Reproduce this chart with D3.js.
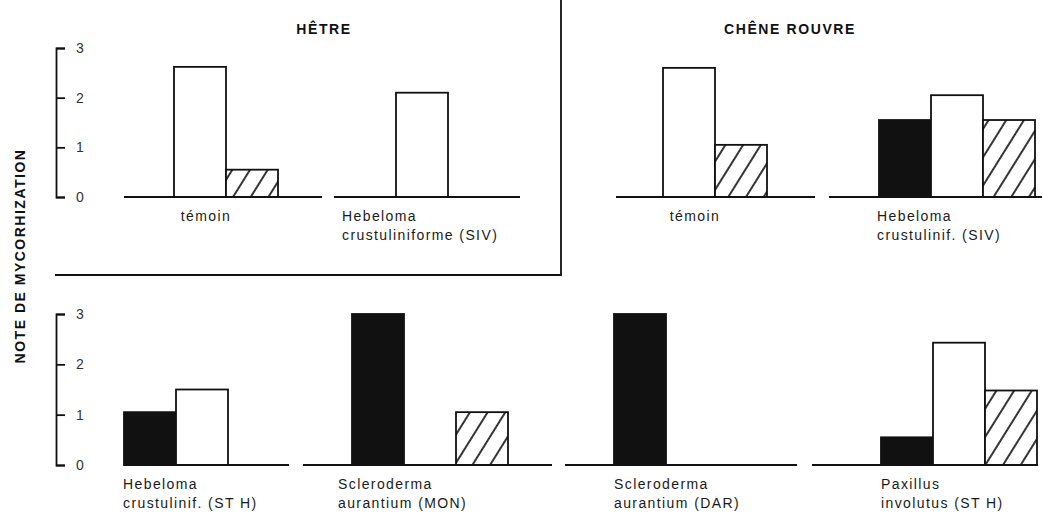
<!DOCTYPE html>
<html lang="fr">
<head>
<meta charset="UTF-8">
<title>Note de mycorhization</title>
<style>
  body { margin: 0; background: #fff; }
  svg { display: block; }
  text { font-family: "Liberation Sans", Arial, sans-serif; fill: #111; }
  .title { font-weight: bold; font-size: 14px; letter-spacing: 1.6px; }
  .ylabel { font-weight: bold; font-size: 14px; letter-spacing: 1.5px; }
  .cat { font-size: 14px; letter-spacing: 1.4px; fill: #1a1a1a; }
  .axis text { font-size: 14px; fill: #333; }
  .axis path, .axis line { stroke: #111; stroke-width: 1.8px; }
  .bar { stroke: #111; stroke-width: 1.8px; }
  .base { stroke: #111; stroke-width: 2px; }
</style>
</head>
<body>
<svg width="1042" height="516"></svg>
<script src="https://cdnjs.cloudflare.com/ajax/libs/d3/7.8.5/d3.min.js"></script>
<script>
// data
const series = ["noir", "blanc", "hachure"];
const panelTitles = ["HÊTRE", "CHÊNE ROUVRE"];
const categories = [
  ["témoin"],
  ["Hebeloma", "crustuliniforme (SIV)"],
  ["témoin"],
  ["Hebeloma", "crustulinif. (SIV)"],
  ["Hebeloma", "crustulinif. (ST H)"],
  ["Scleroderma", "aurantium (MON)"],
  ["Scleroderma", "aurantium (DAR)"],
  ["Paxillus", "involutus (ST H)"]
];
const noir    = [0,    0,   0,    1.55, 1.05, 3.0, 3.0, 0.55];
const blanc   = [2.62, 2.1, 2.6,  2.05, 1.5,  0,   0,   2.43];
const hachure = [0.55, 0,   1.05, 1.55, 0,    1.05, 0,  1.48];
const yTicks = [0, 1, 2, 3];

// layout (pixels)
const rows = [{ y0: 197, y3: 48 }, { y0: 465, y3: 314 }];
const groupLayout = [
  { row: 0, x: 122, line: [124, 322], label: "center" },
  { row: 0, x: 344, line: [334, 520], label: 342 },
  { row: 0, x: 611, line: [616, 815], label: "center" },
  { row: 0, x: 879, line: [829, 1042], label: 877 },
  { row: 1, x: 124, line: [124, 289], label: 123 },
  { row: 1, x: 352, line: [303, 552], label: 338 },
  { row: 1, x: 614, line: [565, 797], label: 614 },
  { row: 1, x: 881, line: [812, 1038], label: 881 }
];
const slotW = 52;

const svg = d3.select("svg");

const defs = svg.append("defs");
const pat = defs.append("pattern")
    .attr("id", "hatch")
    .attr("patternUnits", "userSpaceOnUse")
    .attr("width", 15)
    .attr("height", 15)
    .attr("patternTransform", "rotate(32)");
pat.append("rect").attr("width", 15).attr("height", 15).attr("fill", "#fff");
pat.append("line")
    .attr("x1", 2).attr("y1", 0).attr("x2", 2).attr("y2", 15)
    .attr("stroke", "#111").attr("stroke-width", 1.7);

const fills = { noir: "#111", blanc: "#fff", hachure: "url(#hatch)" };

// frame round the HÊTRE panel
svg.append("path")
    .attr("d", "M55,275H561V0")
    .attr("fill", "none")
    .attr("stroke", "#111")
    .attr("stroke-width", 1.8);

// panel titles
svg.append("text").attr("class", "title")
    .attr("x", 324).attr("y", 34).attr("text-anchor", "middle")
    .text(panelTitles[0]);
svg.append("text").attr("class", "title")
    .attr("x", 790).attr("y", 34).attr("text-anchor", "middle")
    .text(panelTitles[1]);

// y axis label
svg.append("text").attr("class", "ylabel")
    .attr("transform", "translate(25,256) rotate(-90)")
    .attr("text-anchor", "middle")
    .text("NOTE DE MYCORHIZATION");

// y scales and axes, one per row
const yScales = rows.map(r => d3.scaleLinear().domain([0, 3]).range([r.y0, r.y3]));

yScales.forEach(y => {
  svg.append("g")
      .attr("class", "axis")
      .attr("transform", "translate(56,0)")
      .call(d3.axisRight(y).tickValues(yTicks).tickFormat(d3.format("d")).tickSize(9).tickPadding(11));
});

const valueOf = { noir, blanc, hachure };

groupLayout.forEach((gl, i) => {
  const y = yScales[gl.row];
  const x = d3.scaleBand().domain(series).range([gl.x, gl.x + slotW * 3]).padding(0);
  const g = svg.append("g");

  const bars = series
      .map(s => ({ key: s, v: valueOf[s][i] }))
      .filter(d => d.v > 0);

  g.selectAll("rect")
      .data(bars)
      .join("rect")
      .attr("class", "bar")
      .attr("x", d => x(d.key))
      .attr("width", x.bandwidth())
      .attr("y", d => y(d.v))
      .attr("height", d => y(0) - y(d.v))
      .attr("fill", d => fills[d.key]);

  g.append("line")
      .attr("class", "base")
      .attr("x1", gl.line[0]).attr("x2", gl.line[1])
      .attr("y1", y(0)).attr("y2", y(0));

  const lines = categories[i];
  const ty = y(0) + 24;
  const t = g.append("text").attr("class", "cat");
  if (gl.label === "center") {
    t.attr("text-anchor", "middle")
        .attr("x", x("blanc") + x.bandwidth() / 2 + 6)
        .attr("y", ty)
        .text(lines[0]);
  } else {
    t.selectAll("tspan")
        .data(lines)
        .join("tspan")
        .attr("x", gl.label)
        .attr("y", (d, k) => ty + k * 19)
        .text(d => d);
  }
});
</script>
</body>
</html>
